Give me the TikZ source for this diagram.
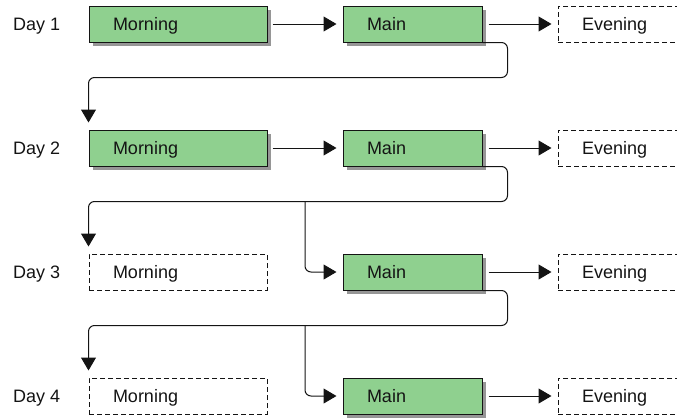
\documentclass[tikz,border=0pt]{standalone}
\usepackage{fontspec}
\setmainfont{Liberation Sans}
\usetikzlibrary{arrows.meta,shadows,calc}
\definecolor{boxgreen}{RGB}{143,208,143}
\definecolor{shadowgray}{RGB}{150,150,150}
\definecolor{inkc}{RGB}{20,20,20}
\begin{document}
\begin{tikzpicture}[x=1pt,y=-1pt,
  every node/.style={font=\fontsize{18}{21}\selectfont, text=inkc, text height=13pt, text depth=0pt},
  basebox/.style={rectangle, minimum height=36pt, inner ysep=0pt, inner xsep=24pt, align=left, line width=1pt},
  wide/.style={text width=130pt},
  narrow/.style={text width=91pt},
  done/.style={basebox, draw=inkc, fill=boxgreen, drop shadow={shadow xshift=4pt, shadow yshift=-4pt, fill=shadowgray, opacity=1}},
  skip/.style={basebox, draw=inkc, dash pattern=on 5pt off 3pt},
  arr/.style={-{Triangle[length=13pt,width=15pt]}, line width=1pt, draw=inkc},
  loop/.style={arr, rounded corners=6pt},
  daylabel/.style={anchor=west, inner sep=0pt}
]
\clip (0,0) rectangle (677,418);

% Day labels
\node[daylabel] (d1) at (13,24) {Day 1};
\node[daylabel] (d2) at (13,148) {Day 2};
\node[daylabel] (d3) at (13,272) {Day 3};
\node[daylabel] (d4) at (13,396) {Day 4};

% Row 1
\node[done, wide] (m1) at (178,24) {Morning};
\node[done, narrow] (n1) at (412.5,24) {Main};
\node[skip, narrow] (e1) at (627.5,24) {Evening};
% Row 2
\node[done, wide] (m2) at (178,148) {Morning};
\node[done, narrow] (n2) at (412.5,148) {Main};
\node[skip, narrow] (e2) at (627.5,148) {Evening};
% Row 3
\node[skip, wide] (m3) at (178,272) {Morning};
\node[done, narrow] (n3) at (412.5,272) {Main};
\node[skip, narrow] (e3) at (627.5,272) {Evening};
% Row 4
\node[skip, wide] (m4) at (178,396) {Morning};
\node[done, narrow] (n4) at (412.5,396) {Main};
\node[skip, narrow] (e4) at (627.5,396) {Evening};

% Horizontal arrows
\draw[arr, shorten <=5pt, shorten >=6pt] (m1) -- (n1);
\draw[arr, shorten <=6pt, shorten >=6pt] (n1) -- (e1);
\draw[arr, shorten <=5pt, shorten >=6pt] (m2) -- (n2);
\draw[arr, shorten <=6pt, shorten >=6pt] (n2) -- (e2);
\draw[arr, shorten <=6pt, shorten >=6pt] (n3) -- (e3);
\draw[arr, shorten <=6pt, shorten >=6pt] (n4) -- (e4);

% Day-to-day connectors
\draw[loop, shorten >=7pt] (n1.south east) -- ++(25,0) -- ++(0,35) -| (m2.north west);
\draw[loop, shorten >=7pt] (n2.south east) -- ++(25,0) -- ++(0,35) -| (m3.north west);
\draw[loop, shorten >=7pt] (n3.south east) -- ++(25,0) -- ++(0,35) -| (m4.north west);

% Branches to Main
\coordinate (b2) at (305,201);
\coordinate (b3) at (305,325);
\draw[loop, shorten >=6pt] (b2) |- (n3.west);
\draw[loop, shorten >=6pt] (b3) |- (n4.west);
\end{tikzpicture}
\end{document}
